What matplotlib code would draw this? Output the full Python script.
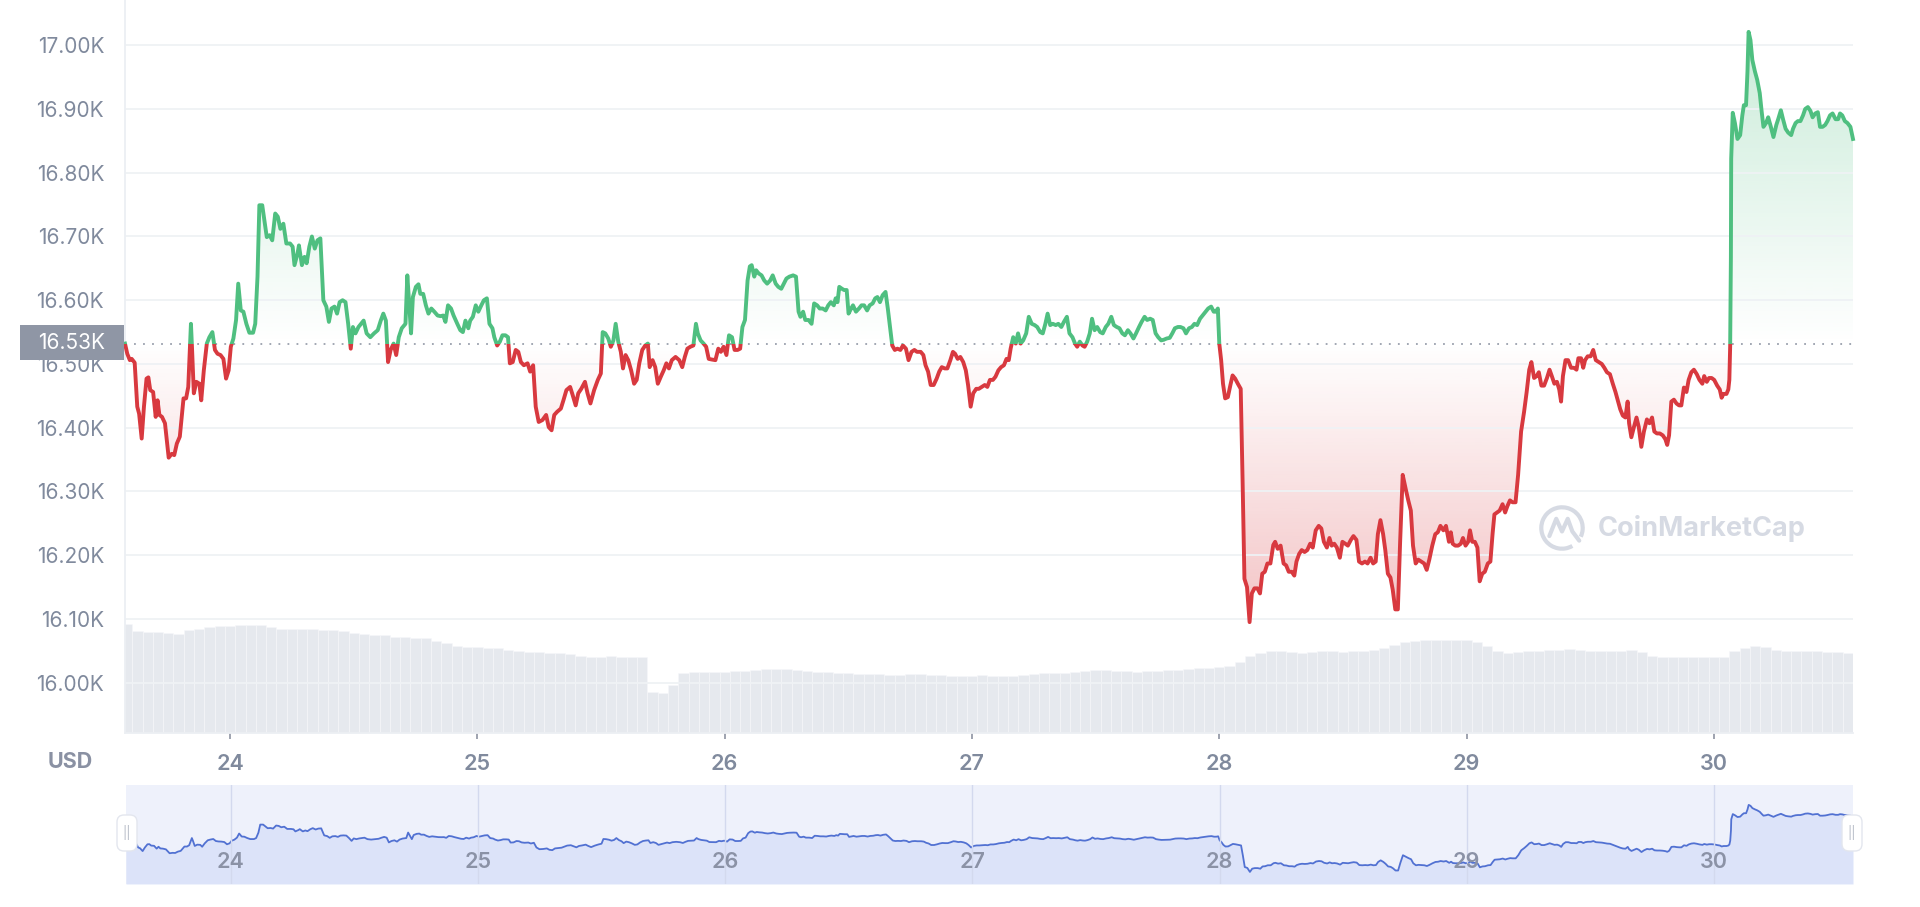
import numpy as np
import matplotlib
matplotlib.use("Agg")
import matplotlib.pyplot as plt
import matplotlib.colors as mcolors
from matplotlib.patches import Rectangle, FancyBboxPatch, Arc
from matplotlib.path import Path

plt.rcParams['font.family'] = ['Inter', 'DejaVu Sans']

# BTC price, 7 day view. time = hours since 23 Dec 00:00, price in USD
hours = [
    13.80, 14.02, 14.27, 14.45, 14.74, 14.99, 15.17, 15.42, 15.64, 15.89,
    16.07, 16.25, 16.53, 16.78, 16.96, 17.14, 17.39, 17.68, 18.04, 18.33,
    18.58, 18.83, 19.12, 19.48, 19.73, 19.94, 20.20, 20.30, 20.48, 20.73,
    21.02, 21.20, 21.45, 21.74, 21.99, 22.28, 22.53, 22.78, 23.07, 23.35,
    23.61, 23.86, 24.07, 24.32, 24.58, 24.79, 25.04, 25.29, 25.58, 25.87,
    26.23, 26.44, 26.66, 26.84, 27.12, 27.38, 27.56, 27.84, 28.09, 28.38,
    28.63, 28.88, 29.17, 29.46, 29.82, 30.07, 30.25, 30.54, 30.68, 30.97,
    31.22, 31.43, 31.69, 31.94, 32.22, 32.48, 32.76, 33.05, 33.34, 33.59,
    33.84, 34.13, 34.38, 34.63, 34.92, 35.20, 35.46, 35.71, 35.92, 36.17,
    36.46, 36.71, 36.96, 37.25, 37.61, 37.97, 38.33, 38.62, 38.87, 39.12,
    39.33, 39.58, 39.87, 40.12, 40.37, 40.66, 41.02, 41.20, 41.38, 41.56,
    41.74, 42.03, 42.28, 42.46, 42.74, 43.00, 43.25, 43.53, 43.82, 44.14,
    44.43, 44.68, 44.90, 45.15, 45.44, 45.69, 46.05, 46.34, 46.59, 46.84,
    47.12, 47.30, 47.56, 47.84, 48.09, 48.38, 48.63, 48.92, 49.17, 49.46,
    49.64, 49.92, 50.18, 50.43, 50.72, 50.97, 51.15, 51.43, 51.72, 51.97,
    52.22, 52.51, 52.87, 53.12, 53.41, 53.66, 53.95, 54.31, 54.67, 54.92,
    55.20, 55.46, 55.74, 56.10, 56.35, 56.64, 57.00, 57.25, 57.54, 57.79,
    58.08, 58.44, 58.69, 58.97, 59.33, 59.69, 59.98, 60.16, 60.41, 60.70,
    60.95, 61.20, 61.42, 61.67, 61.92, 62.13, 62.38, 62.64, 62.92, 63.21,
    63.46, 63.71, 64.00, 64.29, 64.54, 64.72, 65.00, 65.26, 65.51, 65.80,
    66.08, 66.34, 66.59, 66.87, 67.23, 67.59, 67.88, 68.13, 68.38, 68.67,
    68.96, 69.21, 69.39,
    69.66, 69.95, 70.20, 70.45, 70.74, 71.10, 71.38, 71.63, 71.89, 72.17,
    72.42, 72.71, 72.96, 73.25, 73.50, 73.72, 73.97, 74.22, 74.44, 74.62,
    74.87, 75.05, 75.30, 75.58, 75.84, 76.12, 76.41, 76.66, 76.95, 77.20,
    77.49, 77.74, 77.99, 78.28, 78.64, 78.92, 79.17, 79.35, 79.61, 79.82,
    80.14, 80.43, 80.68, 80.97, 81.22, 81.51, 81.80, 82.05, 82.30, 82.59,
    82.77, 82.95, 83.12, 83.38, 83.59, 83.84, 84.02, 84.27, 84.45, 84.74,
    85.03, 85.28, 85.53, 85.82, 86.07, 86.36, 86.61, 86.82, 87.07, 87.33,
    87.61, 87.83, 88.04, 88.26, 88.51, 88.76, 89.05, 89.30, 89.59, 89.84,
    90.13, 90.41, 90.66, 91.02, 91.28, 91.49, 91.74, 91.99, 92.28, 92.57,
    92.82, 93.07, 93.36, 93.61, 93.90, 94.15, 94.36, 94.61, 94.87, 95.15,
    95.40, 95.62, 95.87, 96.12, 96.41, 96.66, 96.95, 97.24, 97.49, 97.74,
    98.03, 98.28, 98.56, 98.82, 99.10, 99.35, 99.57, 99.75, 100.00, 100.25,
    100.47, 100.72, 100.97, 101.26, 101.51, 101.80, 102.08, 102.33, 102.62, 102.87,
    103.12, 103.34, 103.59, 103.84, 104.13, 104.38, 104.67, 104.92, 105.21, 105.46,
    105.75, 106.00, 106.21, 106.46, 106.72, 106.93, 107.18, 107.43, 107.65, 107.90,
    108.15, 108.44, 108.69, 108.98, 109.23, 109.52, 109.77, 110.05, 110.31, 110.59,
    110.84, 111.13, 111.38, 111.67, 111.92, 112.21, 112.46, 112.75, 113.00, 113.29,
    113.54, 113.82, 114.07, 114.36, 114.61, 114.90, 115.19, 115.44, 115.69, 115.98,
    116.23, 116.52, 116.77, 117.06, 117.34, 117.59, 117.85, 118.13, 118.38, 118.67,
    118.92, 119.21, 119.46, 119.68, 119.86, 120.00, 120.18, 120.36, 120.57, 120.83,
    121.08, 121.29, 121.54, 121.80, 122.08, 122.26, 122.44, 122.69, 122.94, 123.16,
    123.41, 123.70, 123.95, 124.17, 124.42, 124.67, 124.96, 125.24, 125.42, 125.67,
    125.95, 126.24, 126.49, 126.74, 127.03, 127.28, 127.49, 127.75, 128.00, 128.28,
    128.54, 128.82, 129.07, 129.36, 129.65, 129.90, 130.15, 130.44, 130.69, 130.91,
    131.16, 131.41, 131.70, 131.95, 132.23, 132.48, 132.77, 133.02, 133.31, 133.56,
    133.85, 134.14, 134.39, 134.68, 134.93, 135.18, 135.39, 135.64, 135.90, 136.11,
    136.36, 136.61, 136.83, 137.08, 137.33, 137.55, 137.80, 138.09, 138.34, 138.59,
    138.80, 139.06, 139.31, 139.59, 139.88, 140.13, 140.38, 140.67, 140.96, 141.21,
    141.46, 141.75, 142.00, 142.29, 142.47, 142.65, 142.90, 143.18, 143.44, 143.65,
    143.90, 144.15, 144.33, 144.55, 144.80, 145.05, 145.27, 145.52, 145.77, 146.06,
    146.31, 146.52, 146.70, 146.95, 147.21, 147.49, 147.74, 147.96, 148.21, 148.46,
    148.75, 149.00, 149.29, 149.58, 149.83, 150.08, 150.29, 150.55, 150.80, 151.01,
    151.26, 151.52, 151.80, 152.05, 152.27, 152.52, 152.77, 152.99, 153.17, 153.35,
    153.60, 153.85, 154.14, 154.42, 154.67, 154.85, 155.11, 155.32, 155.50, 155.75,
    156.04, 156.29, 156.54, 156.83, 157.12, 157.37, 157.62, 157.91, 158.19, 158.45,
    158.70, 158.91, 159.16, 159.41, 159.63, 159.77, 159.99, 160.24, 160.49, 160.71,
    160.96, 161.21, 161.50, 161.75, 162.00, 162.22, 162.47, 162.75, 163.04, 163.29,
    163.47, 163.65, 163.87, 164.12, 164.37, 164.62, 164.84, 165.09, 165.34, 165.55,
    165.81, 166.06, 166.34, 166.60, 166.88, 167.06, 167.31, 167.53, 167.78, 168.03,
    168.32, 168.57, 168.75, 168.93, 169.22, 169.40, 169.50, 169.58, 169.65, 169.68,
    169.83, 170.04, 170.29, 170.55, 170.76, 170.91, 171.12, 171.26, 171.37, 171.55,
    171.73, 171.98, 172.20, 172.45, 172.63, 172.81, 173.06, 173.27, 173.53, 173.78,
    174.06, 174.24, 174.50, 174.71, 174.96, 175.21, 175.50, 175.68, 175.93, 176.15,
    176.40, 176.65, 176.86, 177.12, 177.37, 177.58, 177.84, 178.09, 178.30, 178.55,
    178.80, 179.02, 179.27, 179.52, 179.81, 180.06, 180.24, 180.46, 180.71, 180.96,
    181.25, 181.50,
]

price = [
    16532, 16516, 16506, 16508, 16502, 16433, 16422, 16383, 16433, 16477,
    16479, 16459, 16456, 16417, 16443, 16420, 16417, 16407, 16353, 16359,
    16357, 16375, 16386, 16446, 16446, 16464, 16563, 16527, 16454, 16472,
    16469, 16443, 16490, 16532, 16542, 16550, 16522, 16516, 16514, 16508,
    16477, 16490, 16527, 16540, 16569, 16626, 16584, 16582, 16563, 16549,
    16549, 16563, 16637, 16749, 16749, 16720, 16699, 16702, 16694, 16736,
    16731, 16712, 16720, 16689, 16689, 16684, 16655, 16673, 16686, 16655,
    16668, 16658, 16684, 16700, 16681, 16694, 16697, 16600, 16590, 16566,
    16587, 16590, 16579, 16597, 16600, 16597, 16563, 16524, 16558, 16548,
    16558, 16563, 16568, 16548, 16542, 16548, 16553, 16568, 16579, 16568,
    16503, 16522, 16532, 16514, 16542, 16556, 16563, 16639, 16595, 16548,
    16605, 16621, 16625, 16610, 16610, 16592, 16579, 16587, 16582, 16576,
    16575, 16576, 16566, 16592, 16587, 16576, 16563, 16553, 16550, 16568,
    16556, 16568, 16574, 16592, 16582, 16592, 16600, 16603, 16563, 16556,
    16542, 16529, 16535, 16545, 16545, 16542, 16501, 16503, 16522, 16519,
    16503, 16498, 16501, 16488, 16498, 16433, 16409, 16412, 16420, 16401,
    16396, 16420, 16425, 16430, 16443, 16459, 16464, 16451, 16435, 16454,
    16461, 16472, 16454, 16438, 16459, 16475, 16485, 16550, 16548, 16540,
    16527, 16537, 16563, 16535, 16519, 16493, 16514, 16506, 16490, 16469,
    16475, 16501, 16522, 16529, 16532, 16495, 16506, 16495, 16469, 16480,
    16490, 16501, 16493, 16506, 16511, 16506, 16495, 16511, 16524, 16527,
    16529, 16563, 16548,
    16537, 16532, 16527, 16508, 16507, 16506, 16524, 16519, 16527, 16514,
    16545, 16542, 16522, 16522, 16524, 16558, 16569, 16631, 16653, 16655,
    16637, 16647, 16642, 16639, 16631, 16626, 16631, 16639, 16626, 16621,
    16618, 16626, 16634, 16637, 16639, 16637, 16582, 16574, 16582, 16569,
    16569, 16563, 16595, 16592, 16587, 16587, 16584, 16592, 16597, 16592,
    16603, 16597, 16621, 16618, 16616, 16616, 16579, 16587, 16592, 16582,
    16587, 16592, 16592, 16584, 16592, 16595, 16603, 16605, 16597, 16608,
    16613, 16587, 16558, 16529, 16522, 16524, 16522, 16529, 16524, 16506,
    16519, 16522, 16519, 16519, 16514, 16498, 16488, 16467, 16467, 16477,
    16488, 16495, 16493, 16493, 16506, 16519, 16516, 16508, 16511, 16503,
    16490, 16467, 16433, 16454, 16461, 16461, 16464, 16467, 16464, 16475,
    16475, 16480, 16490, 16495, 16498, 16508, 16506, 16524, 16542, 16532,
    16548, 16532, 16537, 16548, 16574, 16563, 16561, 16558, 16550, 16548,
    16563, 16579, 16561, 16563, 16561, 16563, 16558, 16566, 16574, 16548,
    16542, 16532, 16527, 16535, 16529, 16527, 16535, 16548, 16571, 16553,
    16558, 16550, 16548, 16558, 16563, 16574, 16561, 16558, 16556, 16548,
    16545, 16553, 16548, 16540, 16548, 16558, 16566, 16574, 16569, 16571,
    16569, 16548, 16542, 16537, 16538, 16540, 16541, 16548, 16556, 16558,
    16558, 16556, 16548, 16556, 16558, 16563, 16561, 16571, 16576, 16582,
    16587, 16590, 16582, 16582, 16587, 16532, 16506, 16469, 16446, 16448,
    16467, 16482, 16477, 16469, 16461, 16318, 16163, 16150, 16095, 16140,
    16148, 16148, 16140, 16171, 16174, 16187, 16187, 16216, 16221, 16210,
    16215, 16187, 16184, 16174, 16174, 16168, 16190, 16202, 16208, 16205,
    16208, 16218, 16212, 16239, 16246, 16242, 16221, 16212, 16227, 16215,
    16218, 16212, 16196, 16221, 16218, 16215, 16224, 16230, 16224, 16190,
    16187, 16190, 16187, 16196, 16187, 16190, 16233, 16255, 16233, 16208,
    16171, 16165, 16146, 16115, 16115, 16221, 16326, 16304, 16286, 16270,
    16215, 16187, 16193, 16190, 16187, 16177, 16193, 16215, 16233, 16236,
    16246, 16239, 16246, 16221, 16236, 16218, 16215, 16215, 16218, 16227,
    16215, 16221, 16239, 16221, 16221, 16212, 16159, 16171, 16174, 16187,
    16190, 16233, 16264, 16267, 16270, 16280, 16267, 16277, 16286, 16283,
    16283, 16326, 16394, 16425, 16456, 16491, 16503, 16478, 16481, 16487,
    16466, 16466, 16478, 16491, 16481, 16469, 16472, 16460, 16441, 16481,
    16506, 16506, 16494, 16494, 16491, 16509, 16509, 16494, 16506, 16512,
    16512, 16522, 16506, 16503, 16500, 16494, 16487, 16484, 16469, 16456,
    16441, 16429, 16419, 16416, 16441, 16407, 16385, 16401, 16416, 16401,
    16370, 16394, 16413, 16407, 16416, 16394, 16391, 16391, 16388, 16382,
    16373, 16388, 16441, 16444, 16438, 16435, 16435, 16463, 16456, 16475,
    16487, 16491, 16484, 16475, 16469, 16481, 16472, 16478, 16478, 16475,
    16466, 16460, 16447, 16453, 16453, 16460, 16475, 16528, 16667, 16822,
    16894, 16878, 16853, 16859, 16890, 16906, 16906, 16959, 17021, 17008,
    16977, 16959, 16946, 16925, 16897, 16872, 16878, 16887, 16872, 16856,
    16875, 16884, 16898, 16884, 16869, 16863, 16859, 16869, 16878, 16881,
    16881, 16890, 16900, 16903, 16897, 16887, 16893, 16895, 16872, 16872,
    16875, 16881, 16890, 16893, 16884, 16884, 16893, 16890, 16881, 16878,
    16872, 16853,
]

# hourly 24h volume (USD bn), first bar at hour 14
volume = [
    23.8, 22.3, 22.0, 22.0, 21.8, 21.7, 22.4, 22.8, 23.2, 23.3,
    23.4, 23.5, 23.6, 23.6, 23.1, 22.8, 22.8, 22.7, 22.7, 22.5,
    22.4, 22.2, 21.9, 21.7, 21.5, 21.4, 21.0, 20.9, 20.8, 20.7,
    20.1, 19.6, 19.0, 18.8, 18.7, 18.6, 18.5, 18.2, 17.8, 17.7,
    17.6, 17.5, 17.4, 17.2, 16.8, 16.6, 16.5, 16.8, 16.7, 16.6,
    16.5, 9.0, 8.7, 10.5, 13.2, 13.3, 13.4, 13.4, 13.4, 13.5,
    13.6, 13.8, 13.9, 13.9, 13.9, 13.8, 13.6, 13.4, 13.3, 13.2,
    13.0, 12.9, 12.8, 12.8, 12.7, 12.7, 12.8, 12.8, 12.7, 12.6,
    12.4, 12.5, 12.5, 12.6, 12.4, 12.4, 12.5, 12.6, 12.8, 13.0,
    13.1, 13.2, 13.3, 13.5, 13.7, 13.8, 13.6, 13.5, 13.4, 13.5,
    13.6, 13.7, 13.8, 13.9, 14.1, 14.3, 14.5, 14.7, 15.5, 16.8,
    17.5, 17.8, 17.8, 17.7, 17.5, 17.6, 17.8, 17.8, 17.7, 17.8,
    17.9, 18.1, 18.6, 19.3, 19.8, 20.0, 20.2, 20.3, 20.3, 20.3,
    20.2, 19.9, 19.0, 17.8, 17.5, 17.6, 17.8, 18.0, 18.1, 18.2,
    18.3, 18.1, 17.9, 17.8, 17.8, 18.0, 18.1, 17.6, 16.8, 16.7,
    16.7, 16.7, 16.6, 16.6, 16.5, 16.5, 18.0, 18.6, 19.0, 18.7,
    18.2, 18.0, 17.9, 17.8, 17.8, 17.7, 17.6, 17.5,
]

day_labels = [24, 25, 26, 27, 28, 29, 30]
price_ticks = [16000, 16100, 16200, 16300, 16400, 16500, 16600, 16700, 16800, 16900, 17000]

green = '#4fbf80'
red = '#d8393f'
label_grey = '#808a9d'

t = np.array(hours)
p = np.array(price, dtype=float)
base = p[0]
day_hours = [24 * (d - 23) for d in day_labels]

fig = plt.figure(figsize=(19.2, 9.07), dpi=100)
ax = fig.add_axes([0.0651, 0.1918, 0.9, 0.8082])
axv = ax.twinx()
ax.set_zorder(axv.get_zorder() + 1)
ax.patch.set_visible(False)

# volume bars
vol_t = np.arange(14, 14 + len(volume))
axv.bar(vol_t, volume, width=1.0, color='#e6e9ee', edgecolor='#f7f8fa', linewidth=0.4)
axv.set_ylim(0, 160)
axv.set_yticks([])
for s in axv.spines.values():
    s.set_visible(False)

# gradient fills between line and opening price
def gradient_fill(mask, lo, hi, color, rising):
    poly = ax.fill_between(t, p, base, where=mask, interpolate=True,
                           facecolor='none', edgecolor='none')
    img = np.zeros((256, 1, 4))
    img[..., :3] = mcolors.to_rgb(color)
    a = np.linspace(0, 0.3, 256)
    img[:, 0, 3] = a if rising else a[::-1]
    im = ax.imshow(img, extent=[t[0], t[-1], lo, hi], origin='lower',
                   aspect='auto', interpolation='bilinear', zorder=1)
    im.set_clip_path(Path.make_compound_path(*poly.get_paths()), ax.transData)

gradient_fill(p >= base, base, p.max(), green, True)
gradient_fill(p <= base, p.min(), base, red, False)

lg, = ax.plot(t, p, color=green, lw=2.8, zorder=3, solid_joinstyle='round')
lg.set_clip_path(Rectangle((t[0] - 5, base), t[-1] - t[0] + 10, 3000, transform=ax.transData))
lr, = ax.plot(t, p, color=red, lw=2.8, zorder=3, solid_joinstyle='round')
lr.set_clip_path(Rectangle((t[0] - 5, base - 3000), t[-1] - t[0] + 10, 3000, transform=ax.transData))

ax.axhline(base, color='#9aa0ad', lw=1.3, ls=(0, (1, 4)), zorder=2)

ax.set_xlim(t[0], t[-1])
ax.set_ylim(15921, 17071)
ax.set_yticks(price_ticks)
ax.set_yticklabels([f'{v / 1000:.2f}K' for v in price_ticks])
ax.grid(axis='y', color='#eff2f5', lw=1.3)
ax.tick_params(axis='y', length=0, pad=15, labelsize=15, labelcolor=label_grey)
ax.set_xticks(day_hours)
ax.set_xticklabels([str(d) for d in day_labels])
ax.tick_params(axis='x', length=4, width=1.2, color='#8e94a2', pad=11,
               labelsize=15.5, labelcolor=label_grey)
for lab in ax.get_xticklabels():
    lab.set_fontweight('semibold')
for side in ['top', 'right']:
    ax.spines[side].set_visible(False)
ax.spines['left'].set_color('#eceff3')
ax.spines['left'].set_linewidth(1.3)
ax.spines['bottom'].set_color('#eceff3')
ax.spines['bottom'].set_linewidth(1.3)

fig.text(70 / 1920, 1 - 762 / 907, 'USD', ha='center', va='center',
         fontsize=15.5, fontweight='bold', color='#8a91a3')

# current-open price tag
fig.patches.append(Rectangle((20 / 1920, 1 - 360 / 907), 104 / 1920, 35 / 907,
                             transform=fig.transFigure, facecolor='#8f96a5',
                             edgecolor='none', zorder=5))
fig.text(72 / 1920, 1 - 343 / 907, f'{base / 1000:.2f}K', ha='center', va='center',
         fontsize=15, color='white', zorder=6)

# watermark
fig.text(1598 / 1920, 1 - 528 / 907, 'CoinMarketCap', ha='left', va='center',
         fontsize=19.5, fontweight='bold', color='#d6dae3')
logo = fig.add_axes([1539 / 1920, 1 - 551 / 907, 46 / 1920, 46 / 907])
logo.set_xlim(-1, 1)
logo.set_ylim(-1, 1)
logo.axis('off')
logo.add_patch(Arc((0, 0), 1.8, 1.8, theta1=-25, theta2=300, color='#d6dae3', lw=3))
logo.plot([-0.55, -0.25, 0.0, 0.25, 0.45, 0.75], [-0.35, 0.4, -0.15, 0.4, -0.15, -0.55],
          color='#d6dae3', lw=3, solid_capstyle='round', solid_joinstyle='round')

# navigator
axn = fig.add_axes([0.0656, 0.0254, 0.8995, 0.1092])
axn.set_facecolor('#eef1fb')
axn.fill_between(t, p, 15929, color='#dce3f9', lw=0)
axn.plot(t, p, color='#5171d2', lw=1.3)
for h, d in zip(day_hours, day_labels):
    axn.axvline(h, color='#d3d9ee', lw=1)
    axn.text(h, 0.22, str(d), transform=axn.get_xaxis_transform(), ha='center',
             va='center', fontsize=15.5, fontweight='semibold', color='#8b92a6')
axn.set_xlim(t[0], t[-1])
axn.set_ylim(15929, 17297)
axn.set_xticks([])
axn.set_yticks([])
for s in axn.spines.values():
    s.set_visible(False)

for cx in [127, 1852]:
    fig.patches.append(FancyBboxPatch((cx / 100 - 0.1, (907 - 851) / 100), 0.2, 0.36,
                                      boxstyle='round,pad=0,rounding_size=0.07',
                                      transform=fig.dpi_scale_trans, facecolor='white',
                                      edgecolor='#e3e6ee', lw=1, zorder=5))
    fig.text(cx / 1920, 1 - 833 / 907, '||', ha='center', va='center', fontsize=9,
             color='#b9bec9', zorder=6)

fig.savefig('out.png', dpi=100, facecolor='white')
